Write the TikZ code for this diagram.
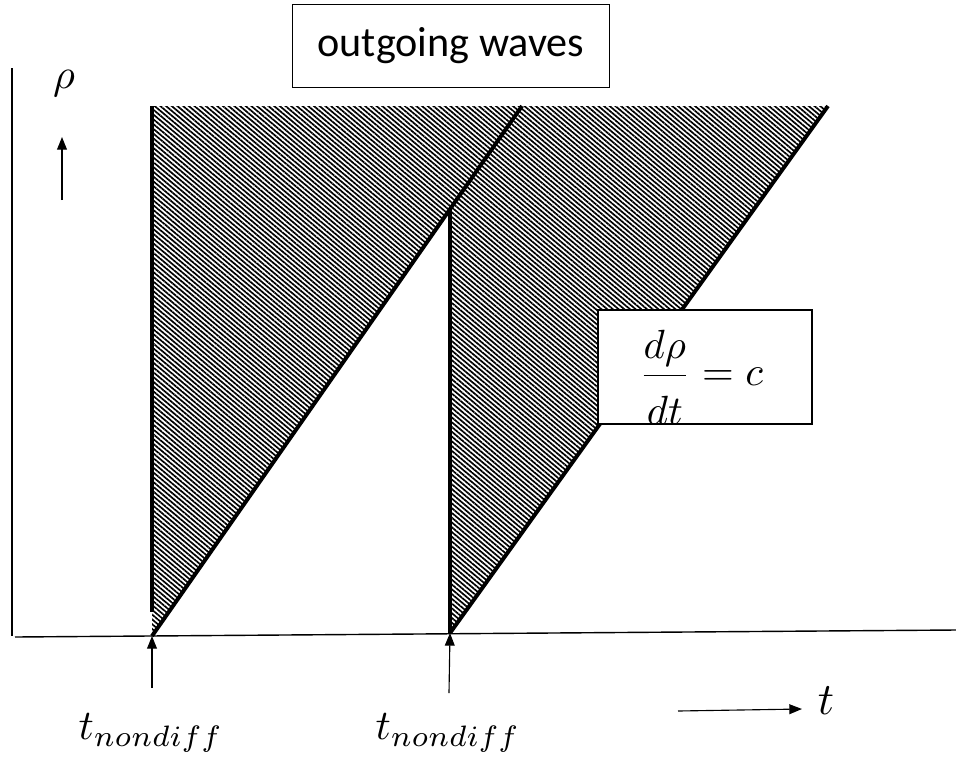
\documentclass[tikz,border=0pt]{standalone}
\usepackage[no-math]{fontspec}
\setmainfont{Carlito}
\usetikzlibrary{patterns.meta,arrows.meta}

\begin{document}
\begin{tikzpicture}[x=0.025cm, y=-0.025cm, >={Triangle[length=9pt,width=7pt]},
  bigmath/.style={scale=3},
  front/.style={line width=2.8pt},
  labelbox/.style={draw, line width=0.8pt, fill=white, inner sep=0pt}]
  \useasboundingbox (0,0) rectangle (956,759);

  % axes
  \coordinate (ytop) at (12,68);
  \coordinate (ybot) at (12,636);
  \coordinate (xleft) at (15,637);
  \coordinate (xright) at (956,630);
  \draw[line width=1pt] (ytop) -- (ybot);
  \draw[line width=1pt] (xleft) -- (xright);

  % hatched wave region
  \coordinate (tA) at (152,636);
  \coordinate (tB) at (450,633);
  \fill[pattern={Lines[angle=-40,distance=2.6pt,line width=1.2pt]}]
    (152,106) -- (828,106) -- (tB) -- (450,209) -- (tA) -- cycle;
  \draw[front] (152,106) -- (152,612);
  \draw[front] (tA) -- (522,106);
  \draw[front] (tB) -- (450,209);
  \draw[front] (tB) -- (828,106);

  % title
  \node[labelbox, minimum width=7.925cm, minimum height=2.075cm,
    font=\fontsize{30}{34}\selectfont] (title) at (451,46) {outgoing waves};

  % rho axis label
  \node[bigmath] (rho) at (64,84) {$\rho$};
  \coordinate (rhotail) at (62,200);
  \coordinate (rhohead) at (62,137);
  \draw[->, line width=0.8pt] (rhotail) -- (rhohead);

  % speed box, bottom cuts the text
  \node[labelbox, minimum width=5.35cm, minimum height=2.85cm] (rate) at (705,367) {};
  \begin{scope}
    \clip (rate.south west) rectangle (rate.north east);
    \node[scale=2.9, anchor=west, inner sep=0pt] (ratetext) at (638,377)
      {$\displaystyle\frac{d\rho}{\lower2.5pt\hbox{$dt$}}=c$};
  \end{scope}

  % onset times
  \node[bigmath] (ndA) at (151,733) {$t_{nondiff}$};
  \node[bigmath] (ndB) at (448,733) {$t_{nondiff}$};
  \coordinate (ndAtail) at (152,688);
  \coordinate (ndBtail) at (449,693);
  \draw[->, line width=0.8pt] (ndAtail) -- (tA);
  \draw[->, line width=0.8pt] (ndBtail) -- (tB);

  % time direction
  \node[scale=3.2] (tlabel) at (826,701) {$t$};
  \coordinate (ttail) at (678,711);
  \draw[->, line width=0.8pt] (ttail) -- (tlabel.west |- 0,709);
\end{tikzpicture}
\end{document}
